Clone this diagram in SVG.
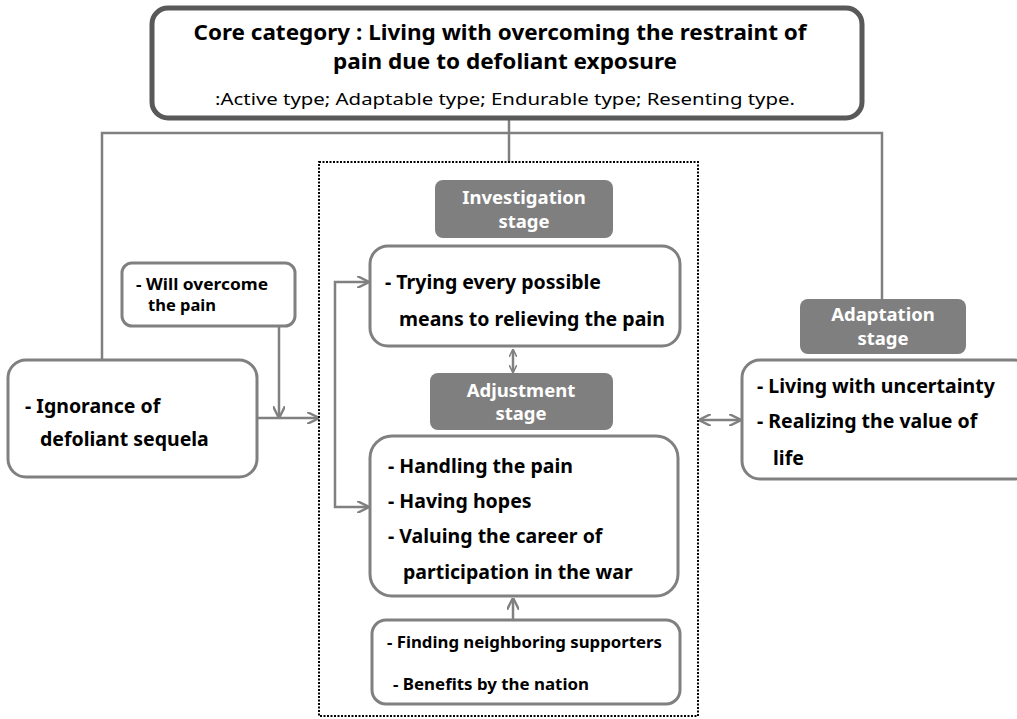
<svg xmlns="http://www.w3.org/2000/svg" width="1017" height="719" viewBox="0 0 1017 719">
<defs>
<marker id="ah" viewBox="0 0 10 10" refX="9" refY="5" markerWidth="8" markerHeight="8" orient="auto-start-reverse" markerUnits="userSpaceOnUse">
<path d="M0,0 L10,5 L0,10" fill="none" stroke="#808080" stroke-width="2"/>
</marker>
<marker id="ah2" viewBox="0 0 10 10" refX="9" refY="5" markerWidth="12" markerHeight="12" orient="auto-start-reverse" markerUnits="userSpaceOnUse">
<path d="M0,0 L10,5 L0,10" fill="none" stroke="#808080" stroke-width="2"/>
</marker>
<style>
.box{fill:#fff;stroke:#808080;stroke-width:3}
.stage{fill:#7f7f7f;stroke:none}
.st{font-family:"Noto Sans","Open Sans",sans-serif;font-weight:bold;font-size:18.5px;fill:#fff;text-anchor:middle}
.t{font-family:"Noto Sans","Open Sans",sans-serif;font-weight:bold;font-size:19.5px;fill:#000}
.s{font-family:"Noto Sans","Open Sans",sans-serif;font-weight:bold;font-size:16px;fill:#000}
.ln{fill:none;stroke:#808080;stroke-width:2.5}
</style>
</defs>
<g id="connectors">
<path class="ln" d="M509,118 V162"/>
<path class="ln" d="M102,360 V133 H882 V300"/>
<path class="ln" d="M257,418 H318" marker-end="url(#ah2)"/>
<path class="ln" d="M279,326 V417" marker-end="url(#ah2)"/>
<path class="ln" d="M368,282 H335 V507 H368" marker-start="url(#ah2)" marker-end="url(#ah2)"/>
<path class="ln" d="M513,350 V372" marker-start="url(#ah)" marker-end="url(#ah)"/>
<path class="ln" d="M513,620 V599" marker-end="url(#ah2)"/>
<path class="ln" d="M700,420 H740" marker-start="url(#ah2)" marker-end="url(#ah2)"/>
</g>
<g id="frame">
<rect x="319" y="162" width="379" height="554" fill="none" stroke="#000" stroke-width="2" stroke-dasharray="2,1.5"/>
</g>
<g id="core">
<rect x="152" y="8" width="710" height="110" rx="16" fill="#fff" stroke="#595959" stroke-width="5"/>
<text x="500" y="40" text-anchor="middle" font-family="Noto Sans,sans-serif" font-weight="bold" font-size="22" textLength="613" lengthAdjust="spacingAndGlyphs">Core category : Living with overcoming the restraint of</text>
<text x="505" y="69" text-anchor="middle" font-family="Noto Sans,sans-serif" font-weight="bold" font-size="22" textLength="344" lengthAdjust="spacingAndGlyphs">pain due to defoliant exposure</text>
<text x="505" y="105" text-anchor="middle" font-family="Noto Sans,sans-serif" font-size="17" textLength="580" lengthAdjust="spacingAndGlyphs">:Active type; Adaptable type; Endurable type; Resenting type.</text>
</g>
<g id="will">
<rect class="box" x="122" y="263" width="173" height="63" rx="10"/>
<text class="s" x="136" y="290" textLength="132" lengthAdjust="spacingAndGlyphs">- Will overcome</text>
<text class="s" x="148" y="311" textLength="68" lengthAdjust="spacingAndGlyphs">the pain</text>
</g>
<g id="ignorance">
<rect class="box" x="8" y="360" width="249" height="117" rx="18"/>
<text class="t" x="25" y="413">- Ignorance of</text>
<text class="t" x="40" y="446">defoliant sequela</text>
</g>
<g id="investigation">
<rect class="stage" x="435" y="180" width="178" height="58" rx="8"/>
<text class="st" x="524" y="204">Investigation</text>
<text class="st" x="524" y="228">stage</text>
</g>
<g id="trying">
<rect class="box" x="370" y="246" width="310" height="100" rx="18"/>
<text class="t" x="385" y="289">- Trying every possible</text>
<text class="t" x="399" y="326">means to relieving the pain</text>
</g>
<g id="adjustment">
<rect class="stage" x="430" y="373" width="183" height="57" rx="8"/>
<text class="st" x="521" y="397">Adjustment</text>
<text class="st" x="521" y="420">stage</text>
</g>
<g id="handling">
<rect class="box" x="370" y="436" width="308" height="160" rx="22"/>
<text class="t" x="388" y="473">- Handling the pain</text>
<text class="t" x="388" y="508">- Having hopes</text>
<text class="t" x="388" y="543">- Valuing the career of</text>
<text class="t" x="403" y="579">participation in the war</text>
</g>
<g id="finding">
<rect class="box" x="372" y="620" width="308" height="84" rx="14"/>
<text class="s" x="387" y="648" textLength="275" lengthAdjust="spacingAndGlyphs">- Finding neighboring supporters</text>
<text class="s" x="393" y="690" textLength="196" lengthAdjust="spacingAndGlyphs">- Benefits by the nation</text>
</g>
<g id="adaptation">
<rect class="stage" x="800" y="299" width="166" height="55" rx="8"/>
<text class="st" x="883" y="321">Adaptation</text>
<text class="st" x="883" y="345">stage</text>
</g>
<g id="living">
<rect class="box" x="742" y="360" width="290" height="119" rx="18"/>
<text class="t" x="757" y="393">- Living with uncertainty</text>
<text class="t" x="757" y="428">- Realizing the value of</text>
<text class="t" x="773" y="465">life</text>
</g>
</svg>
